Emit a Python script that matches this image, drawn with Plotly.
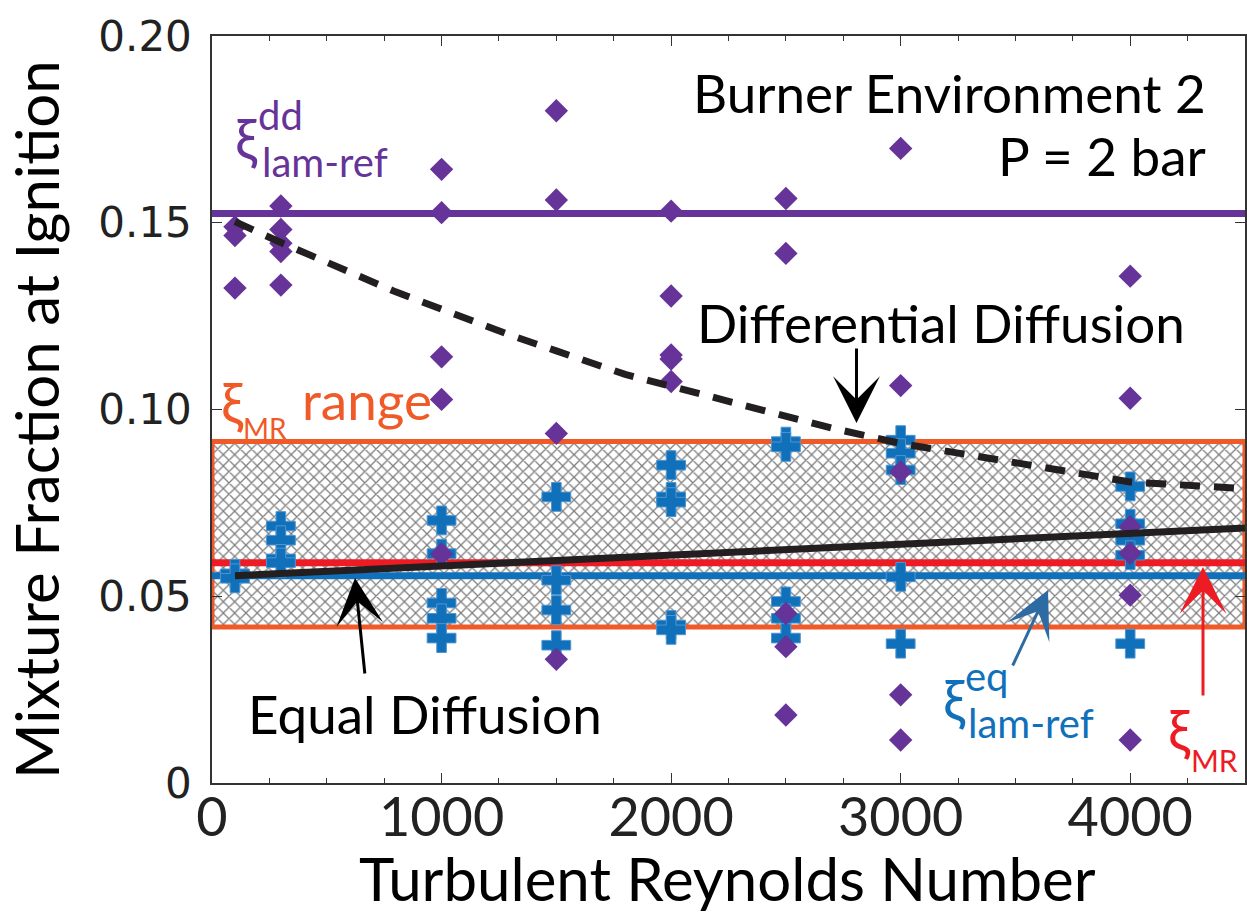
import plotly.graph_objects as go

# ---------------- data ----------------
re_levels = [100, 300, 1000, 1500, 2000, 2500, 3000, 4000]

# differential-diffusion ignition points (purple diamonds)
xi_dd = {
    100: [0.1489, 0.1466, 0.1325],
    300: [0.1545, 0.1482, 0.1445, 0.1423, 0.1333],
    1000: [0.1643, 0.1527, 0.1141, 0.1027, 0.0613],
    1500: [0.1800, 0.1561, 0.0936, 0.0331],
    2000: [0.1531, 0.1304, 0.1146, 0.1135, 0.1075],
    2500: [0.1565, 0.1418, 0.0454, 0.0365, 0.0182],
    3000: [0.1699, 0.1064, 0.0833, 0.0236, 0.0115],
    4000: [0.1357, 0.1030, 0.0686, 0.0615, 0.0503, 0.0115],
}
# equal-diffusion ignition points (blue crosses)
xi_eq = {
    100: [0.0560, 0.0548],
    300: [0.0688, 0.0650, 0.0600, 0.0590],
    1000: [0.0703, 0.0614, 0.0482, 0.0441, 0.0388],
    1500: [0.0766, 0.0543, 0.0463, 0.0369],
    2000: [0.0851, 0.0766, 0.0752, 0.0423, 0.0410],
    2500: [0.0914, 0.0900, 0.0486, 0.0441, 0.0388],
    3000: [0.0918, 0.0883, 0.0838, 0.0552, 0.0373],
    4000: [0.0794, 0.0694, 0.0650, 0.0610, 0.0373],
}

xi_lam_ref_dd = 0.1525
xi_lam_ref_eq = 0.0555
xi_mr = 0.0590
xi_mr_range = [0.0418, 0.0914]
x_span = [0, 4500]

# trend lines
eq_trend_re = [100, 4500]
eq_trend_xi = [0.0555, 0.0683]
dd_trend_re = [100, 300, 800, 1000, 1300, 1500, 1800, 2000, 2300, 2500, 2700, 3000, 3400, 3700, 4000, 4500]
dd_trend_xi = [0.1503, 0.1447, 0.1315, 0.1267, 0.1199, 0.1157, 0.1094, 0.1062, 0.1012, 0.0980,
               0.0950, 0.0909, 0.0866, 0.0836, 0.0806, 0.0788]

x_ticks = [0, 1000, 2000, 3000, 4000]
y_ticks = [0, 0.05, 0.10, 0.15, 0.20]
y_ticktext = ["0", "0.05", "0.10", "0.15", "0.20"]

# ---------------- styles ----------------
PURPLE = "#663399"
BLUE = "#1070BA"
RED = "#ED1C24"
ORANGE = "#F05A28"
BLACK = "#231F20"
ARROW_BLUE = "#2E6BA3"
FONT = "Lato"

W, H = 1247, 916
L, R, T, B = 212, 2, 36, 133
PW, PH = W - L - R, H - T - B


def px(xp):
    return (xp - L) / PW


def py(yp):
    return (H - B - yp) / PH


fig = go.Figure()

# hatched xi_MR range box
fig.add_trace(go.Scatter(
    x=[x_span[0], x_span[1], x_span[1], x_span[0], x_span[0]],
    y=[xi_mr_range[0], xi_mr_range[0], xi_mr_range[1], xi_mr_range[1], xi_mr_range[0]],
    mode="lines", fill="toself",
    fillcolor="white",
    fillpattern=dict(shape="x", size=8, solidity=0.3, fgcolor="black", bgcolor="white", fillmode="overlay"),
    line=dict(color=ORANGE, width=5), hoverinfo="skip", showlegend=False))

# horizontal reference lines
for val, col in [(xi_lam_ref_dd, PURPLE), (xi_mr, RED), (xi_lam_ref_eq, BLUE)]:
    fig.add_trace(go.Scatter(x=x_span, y=[val, val], mode="lines",
                             line=dict(color=col, width=7), showlegend=False))

# blue crosses
ex, ey = [], []
for r in re_levels:
    for v in xi_eq[r]:
        ex.append(r)
        ey.append(v)
fig.add_trace(go.Scatter(x=ex, y=ey, mode="markers",
                         marker=dict(symbol="cross", size=24, color=BLUE,
                                     line=dict(color="#4f95d0", width=1)),
                         showlegend=False))

# purple diamonds
dx, dy = [], []
for r in re_levels:
    for v in xi_dd[r]:
        dx.append(r)
        dy.append(v)
fig.add_trace(go.Scatter(x=dx, y=dy, mode="markers",
                         marker=dict(symbol="diamond", size=18, color=PURPLE, line=dict(width=0)),
                         showlegend=False))

# trend lines
fig.add_trace(go.Scatter(x=eq_trend_re, y=eq_trend_xi, mode="lines",
                         line=dict(color=BLACK, width=7), showlegend=False))
fig.add_trace(go.Scatter(x=dd_trend_re, y=dd_trend_xi, mode="lines",
                         line=dict(color=BLACK, width=7, dash="20px,14px"), showlegend=False))

ann = []


def text(xp, yp, s, size, color, xanchor="left", yanchor="middle", angle=0, font=FONT):
    ann.append(dict(x=px(xp), y=py(yp), xref="paper", yref="paper", text=s, showarrow=False,
                    xanchor=xanchor, yanchor=yanchor, textangle=angle,
                    font=dict(family=font, size=size, color=color)))


def arrow(hx, hy, tx, ty, color):
    ann.append(dict(x=px(hx), y=py(hy), xref="paper", yref="paper", ax=tx - hx, ay=ty - hy,
                    axref="pixel", ayref="pixel", text="", showarrow=True,
                    arrowhead=3, arrowsize=2.6, arrowwidth=3, arrowcolor=color))


BIG = 53
SUB = 40
# title texts
text(1208, 92, "Burner Environment 2", BIG, "black", xanchor="right")
text(1208, 155, "P = 2 bar", BIG, "black", xanchor="right")
text(941, 322, "Differential Diffusion", BIG, "black", xanchor="center")
text(425, 713, "Equal Diffusion", BIG, "black", xanchor="center")

# xi^dd_lam-ref (purple)
text(233, 137, "ξ", 56, PURPLE)
text(256, 115, "dd", SUB, PURPLE)
text(260, 162, "lam-ref", SUB, PURPLE)
# xi^eq_lam-ref (blue)
text(941, 698, "ξ", 56, BLUE)
text(963, 676, "eq", SUB, BLUE)
text(966, 723, "lam-ref", SUB, BLUE)
# xi_MR (red)
text(1166, 728, "ξ", 56, RED)
text(1189, 760, "MR", 30, RED)
# xi_MR range (orange)
text(219, 401, "ξ", 56, ORANGE)
text(241, 428, "MR", 28, ORANGE)
text(300, 400, "range", BIG, ORANGE)

# arrows
arrow(856.5, 423, 856.5, 347, "black")
arrow(355, 578, 365, 675, "black")
arrow(1048, 590, 1012, 667, ARROW_BLUE)
arrow(1203, 567, 1203, 697, RED)

# axis titles
text(727, 878, "Turbulent Reynolds Number", 60, "black", xanchor="center")
text(36, 420, "Mixture Fraction at Ignition", 60, "black", xanchor="center", angle=-90)

fig.update_layout(
    width=W, height=H,
    margin=dict(l=L, r=R, t=T, b=B, autoexpand=False),
    plot_bgcolor="white", paper_bgcolor="white",
    showlegend=False,
    annotations=ann,
    xaxis=dict(range=x_span, tickmode="array", tickvals=x_ticks, ticks="inside", ticklen=10,
               tickwidth=1.2, tickcolor="#333", showline=True, linecolor="#333", linewidth=1.5,
               mirror="ticks", showgrid=False, zeroline=False,
               minor=dict(dtick=250, ticks="inside", ticklen=5, tickwidth=1.2, tickcolor="#333", showgrid=False),
               tickfont=dict(family=FONT, size=54, color="#222"), ticklabelstandoff=-14),
    yaxis=dict(range=[0, 0.2], tickmode="array", tickvals=y_ticks, ticktext=y_ticktext,
               ticks="inside", ticklen=10, tickwidth=1.2, tickcolor="#333",
               showline=True, linecolor="#333", linewidth=1.5, mirror="ticks",
               showgrid=False, zeroline=False,
               tickfont=dict(family="DejaVu Sans", size=42, color="#222"), ticklabelstandoff=10),
)

fig.write_html("out.html")
